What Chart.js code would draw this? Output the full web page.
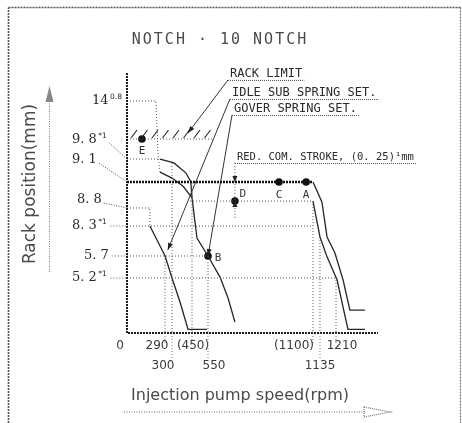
<!DOCTYPE html>
<html><head><meta charset="utf-8">
<script src="https://cdn.jsdelivr.net/npm/chart.js@4.4.1/dist/chart.umd.min.js"></script>
<style>html,body{margin:0;padding:0;background:#fff}#wrap{width:462px;height:423px}</style>
</head><body><div id="wrap"><canvas id="c" width="462" height="423"></canvas></div>
<script>
// ---------------- data (rpm, rack mm) ----------------
const chartTitle = 'NOTCH \u00b7 10 NOTCH';
const xTitle = 'Injection pump speed(rpm)';
const yTitle = 'Rack position(mm)';

const speedTicks = [0, 290, 300, 450, 550, 1100, 1135, 1210];
const speedTickLabels = ['0', '290', '300', '(450)', '550', '(1100)', '1135', '1210'];
const rackTicks = [14, 9.8, 9.1, 8.8, 8.3, 5.7, 5.2];
const rackTickLabels = ['14', '9. 8', '9. 1', '8. 8', '8. 3', '5. 7', '5. 2'];
const rackTickNotes = ['0.8', '*1', '', '', '*1', '', '*1'];

const fullLoad = [[0, 9.1], [1100, 9.1]];
const startLimit = [[0, 14], [221, 14], [237, 10.09], [252, 9.40]];
const startCurve = [[252, 9.40], [300, 9.22], [383, 9.05], [450, 8.92]];
const torqueLimit = [[0, 9.8], [252, 9.8]];
const torqueCurve = [[252, 9.8], [315, 9.68], [405, 9.37], [440, 9.12], [450, 8.92]];
const governorCurve = [[450, 8.92], [463, 8.61], [481, 7.26], [550, 5.7], [613, 5.22], [655, 3.31], [691, 1.04]];
const idleStep = [[0, 8.8], [175, 8.8], [175, 8.3]];
const idleCurve = [[175, 8.3], [229, 7.09], [290, 5.72], [300, 5.2], [360, 2.93], [420, 0.35], [544, 0.35]];
const outerDroop = [[1100, 9.1], [1144, 8.87], [1168, 7.35], [1205, 5.96], [1242, 5.01], [1273, 2.17], [1341, 2.17]];
const innerDroop = [[1100, 8.88], [1135, 7.35], [1168, 5.68], [1215, 5.01], [1264, 0.35], [1341, 0.35]];

const rackLimit = [[0, 11.25], [576, 11.25]];
const reducedLevel = [[435, 8.88], [1100, 8.88]];
const guide83 = [[0, 8.3], [1100, 8.3]];
const guide57 = [[0, 5.7], [550, 5.7]];
const guide52 = [[0, 5.2], [1215, 5.2]];
const guide290 = [[290, 5.72], [290, 0]];
const guide300 = [[300, 9.68], [300, 0]];
const guide450 = [[450, 9.09], [450, 0]];
const guide550 = [[550, 5.7], [550, 0]];
const guide1100 = [[1100, 8.88], [1100, 0]];
const guide1135 = [[1135, 7.35], [1135, 0]];
const guide1210 = [[1210, 5.01], [1210, 0]];

const rackLimitLeader = [[655, 15.13], [420, 11.68]];
const idleLeader = [[665, 14.11], [294, 6.22]];
const goverLeader = [[676, 12.99], [550, 5.7]];
const strokeLeader = [[691, 9.68], [691, 8.52]];

const rackLimitNote = 'RACK LIMIT';
const idleNote = 'IDLE SUB SPRING SET.';
const goverNote = 'GOVER SPRING SET.';
const strokeNote = 'RED. COM. STROKE, (0. 25)\u00b9mm';

const pointNames = ['A', 'B', 'C', 'D', 'E'];
const pointRpm = [1064, 550, 922, 691, 114];
const pointRack = [9.1, 5.7, 9.1, 8.88, 11.25];

// ---------------- schematic (piecewise) axes ----------------
const BREAKS = {
  x: [[0, 0], [290, .1514], [300, .1793], [450, .2590], [550, .3227], [1100, .7410], [1135, .7689], [1210, .8327], [1400, 1]],
  y: [[0, 0], [5.2, .2115], [5.7, .2962], [8.3, .4115], [8.8, .4808], [9.1, .5808], [9.8, .6692], [14, .8923], [15.5, 1]]
};
function mapBreaks(b, v) {
  let i = 0; while (i < b.length - 2 && v > b[i + 1][0]) i++;
  return b[i][1] + (v - b[i][0]) * (b[i + 1][1] - b[i][1]) / (b[i + 1][0] - b[i][0]);
}
function unmapBreaks(b, f) {
  let i = 0; while (i < b.length - 2 && f > b[i + 1][1]) i++;
  return b[i][0] + (f - b[i][1]) * (b[i + 1][0] - b[i][0]) / (b[i + 1][1] - b[i][1]);
}
class PiecewiseScale extends Chart.LinearScale {
  getPixelForValue(value) {
    if (value === null || value === undefined) return NaN;
    return this.getPixelForDecimal(mapBreaks(BREAKS[this.axis], value));
  }
  getValueForPixel(pixel) { return unmapBreaks(BREAKS[this.axis], this.getDecimalForPixel(pixel)); }
}
PiecewiseScale.id = 'piecewise';
PiecewiseScale.defaults = Chart.LinearScale.defaults;
Chart.register(PiecewiseScale);

// ---------------- styles ----------------
const INK = '#262626';
const SOLID = { borderColor: INK, borderWidth: 1.3 };
const DOT = { borderColor: '#555', borderWidth: 1, borderDash: [1, 2] };
const THICK = { borderColor: '#111', borderWidth: 2.4, borderDash: [2, 1] };
const LEAD = { borderColor: '#333', borderWidth: 1 };

function ds(pts, style) {
  return Object.assign({ data: pts.map(p => ({ x: p[0], y: p[1] })), showLine: true, pointRadius: 0, clip: false, fill: false, tension: 0 }, style);
}

const datasets = [
  ds(torqueLimit, DOT), ds(startLimit, DOT), ds(idleStep, DOT), ds(rackLimit, DOT),
  ds(reducedLevel, DOT), ds(guide83, DOT), ds(guide57, DOT), ds(guide52, DOT),
  ds(guide290, DOT), ds(guide300, DOT), ds(guide450, DOT), ds(guide550, DOT),
  ds(guide1100, DOT), ds(guide1135, DOT), ds(guide1210, DOT),
  ds(fullLoad, THICK),
  ds(startCurve, SOLID), ds(torqueCurve, SOLID), ds(governorCurve, SOLID), ds(idleCurve, SOLID),
  ds(outerDroop, SOLID), ds(innerDroop, SOLID),
  ds(rackLimitLeader, LEAD), ds(idleLeader, LEAD), ds(goverLeader, LEAD), ds(strokeLeader, DOT),
  { data: pointRpm.map((v, i) => ({ x: v, y: pointRack[i] })), showLine: false, pointRadius: 3.8,
    backgroundColor: '#111', borderWidth: 0, clip: false }
];

// label placement (style)
const yLabelX = [92, 72, 72, 77, 72, 84, 72];
const yLabelShift = [0, -19, -22, -8, 0, 0, 0];
const xLabelDx = [-7, -8, -9, 1, 6, -19, 0, 6];
const xLabelRow = [0, 0, 1, 0, 1, 0, 1, 0];
const pointLabelOff = [[0, 13], [10, 2], [0, 13], [8, -7], [0, 12]];

function arrowHead(ctx, fx, fy, tx, ty, len, w) {
  const a = Math.atan2(ty - fy, tx - fx);
  ctx.beginPath();
  ctx.moveTo(tx, ty);
  ctx.lineTo(tx - len * Math.cos(a) + w * Math.sin(a), ty - len * Math.sin(a) - w * Math.cos(a));
  ctx.lineTo(tx - len * Math.cos(a) - w * Math.sin(a), ty - len * Math.sin(a) + w * Math.cos(a));
  ctx.closePath(); ctx.fill();
}
function dotted(ctx, x1, y1, x2, y2, color, lw, dash) {
  ctx.save(); ctx.strokeStyle = color || '#555'; ctx.lineWidth = lw || 1; ctx.setLineDash(dash || [1, 2]);
  ctx.beginPath(); ctx.moveTo(x1, y1); ctx.lineTo(x2, y2); ctx.stroke(); ctx.restore();
}

const deco = {
  id: 'deco',
  beforeDraw(chart) {
    const ctx = chart.ctx; ctx.save(); ctx.fillStyle = '#fff'; ctx.fillRect(0, 0, chart.width, chart.height); ctx.restore();
  },
  afterDatasetsDraw(chart) {
    const ctx = chart.ctx, xs = chart.scales.x, ys = chart.scales.y, ca = chart.chartArea;
    const X = v => xs.getPixelForValue(v), Y = v => ys.getPixelForValue(v);
    ctx.save();
    // frame
    dotted(ctx, 8.5, 423, 8.5, 7.5, '#555', 1.6, [2, 1]);
    dotted(ctx, 8.5, 7.5, 460.5, 7.5, '#555', 1.6, [2, 1]);
    dotted(ctx, 460.5, 7.5, 460.5, 423, '#777', 1.2, [2, 1]);
    // axes
    ctx.strokeStyle = '#1a1a1a'; ctx.lineWidth = 2; ctx.setLineDash([2, 1]);
    ctx.beginPath(); ctx.moveTo(ca.left, ca.top); ctx.lineTo(ca.left, ca.bottom); ctx.lineTo(ca.right, ca.bottom); ctx.stroke();
    ctx.setLineDash([]);
    // rack-limit hatches
    ctx.strokeStyle = '#222'; ctx.lineWidth = 1.1;
    const hy = Y(rackLimit[0][1]);
    for (let hx = X(rackLimit[0][0]) + 4; hx < X(rackLimit[1][0]) - 2; hx += 10.5) {
      ctx.beginPath(); ctx.moveTo(hx, hy - 1); ctx.lineTo(hx + 6, hy - 9); ctx.stroke();
    }
    // arrowheads on leaders
    ctx.fillStyle = '#222';
    [rackLimitLeader, idleLeader, goverLeader].forEach(L => {
      arrowHead(ctx, X(L[0][0]), Y(L[0][1]), X(L[1][0]), Y(L[1][1]), 7, 2.5);
    });
    const sx = X(strokeLeader[0][0]);
    arrowHead(ctx, sx, Y(9.1) - 10, sx, Y(9.1), 6, 2.5);
    arrowHead(ctx, sx, Y(8.88) + 10, sx, Y(8.88), 6, 2.5);
    // annotation notes with underlines
    ctx.fillStyle = '#2a2a2a'; ctx.textBaseline = 'alphabetic'; ctx.textAlign = 'left';
    [[rackLimitNote, rackLimitLeader, '12px "DejaVu Sans Mono"'], [idleNote, idleLeader, '12px "DejaVu Sans Mono"'],
     [goverNote, goverLeader, '12px "DejaVu Sans Mono"'], [strokeNote, strokeLeader, '10.5px "DejaVu Sans Mono"']].forEach(n => {
      const x0 = X(n[1][0][0]), y0 = Y(n[1][0][1]);
      ctx.font = n[2];
      const w = ctx.measureText(n[0]).width;
      ctx.fillText(n[0], x0 + 2, y0 - 3);
      dotted(ctx, x0, y0 + 0.5, x0 + w + 4, y0 + 0.5, '#444', 1, [1, 1]);
    });
    // point labels
    ctx.font = '11px "DejaVu Sans Mono"'; ctx.textAlign = 'center'; ctx.textBaseline = 'middle'; ctx.fillStyle = '#333';
    pointNames.forEach((n, i) => {
      ctx.fillText(n, X(pointRpm[i]) + pointLabelOff[i][0], Y(pointRack[i]) + pointLabelOff[i][1]);
    });
    // y tick labels
    ctx.textAlign = 'left'; ctx.textBaseline = 'middle'; ctx.fillStyle = '#2a2a2a';
    rackTicks.forEach((v, i) => {
      const yv = Y(v), ty = yv + yLabelShift[i], lx = yLabelX[i];
      ctx.font = '13px "DejaVu Serif"';
      ctx.fillText(rackTickLabels[i], lx, ty);
      let right = lx + ctx.measureText(rackTickLabels[i]).width;
      if (rackTickNotes[i]) {
        ctx.font = '7.5px "DejaVu Sans"';
        ctx.fillText(rackTickNotes[i], right + 1.5, ty - 4);
        right += 2 + ctx.measureText(rackTickNotes[i]).width;
      }
      if (yLabelShift[i] !== 0) dotted(ctx, right + 2, ty + 3, ca.left, yv, '#555', 1, [1, 1.5]);
      else if (i !== 0) dotted(ctx, right + 3, yv, ca.left, yv, '#555', 1, [1, 2]);
    });
    // x tick labels + tick extensions
    ctx.font = '12px "DejaVu Sans"'; ctx.textAlign = 'center'; ctx.fillStyle = '#3a3a3a';
    speedTicks.forEach((v, i) => {
      const xv = X(v);
      if (i > 0) dotted(ctx, xv, ca.bottom, xv, ca.bottom + (xLabelRow[i] ? 27 : 10), '#777', 1, [1, 2]);
      ctx.fillText(speedTickLabels[i], xv + xLabelDx[i], ca.bottom + (xLabelRow[i] ? 33 : 13));
    });
    // title
    ctx.font = '15px "DejaVu Sans Mono"'; ctx.fillStyle = '#4a4a4a'; ctx.textAlign = 'center';
    if ('letterSpacing' in ctx) ctx.letterSpacing = '2px';
    ctx.fillText(chartTitle, 220, 40);
    if ('letterSpacing' in ctx) ctx.letterSpacing = '0px';
    // x title + arrow
    ctx.font = '16px "DejaVu Sans"'; ctx.fillStyle = '#4a4a4a';
    ctx.fillText(xTitle, 240, 396);
    dotted(ctx, 124, 412, 366, 412, '#666', 1, [1, 1.5]);
    ctx.strokeStyle = '#777'; ctx.lineWidth = 1.2; ctx.setLineDash([1, 1]);
    ctx.beginPath(); ctx.moveTo(364, 407); ctx.lineTo(390, 412); ctx.lineTo(364, 417); ctx.closePath(); ctx.stroke();
    ctx.setLineDash([]);
    // y title + arrow
    ctx.save(); ctx.translate(31, 184); ctx.rotate(-Math.PI / 2);
    ctx.font = '17px "DejaVu Sans"'; ctx.fillStyle = '#4a4a4a'; ctx.textAlign = 'center';
    ctx.fillText(yTitle, 0, 0); ctx.restore();
    dotted(ctx, 49.5, 272, 49.5, 98, '#777', 1, [1, 1.5]);
    ctx.fillStyle = '#888';
    arrowHead(ctx, 49.5, 110, 49.5, 86, 16, 4);
    ctx.restore();
  }
};

new Chart(document.getElementById('c'), {
  type: 'scatter',
  data: { datasets },
  options: {
    responsive: false, animation: false, events: [],
    layout: { padding: { left: 127, right: 84, top: 73, bottom: 90 } },
    plugins: { legend: { display: false }, tooltip: { enabled: false } },
    scales: {
      x: { type: 'piecewise', min: 0, max: 1400, display: false },
      y: { type: 'piecewise', min: 0, max: 15.5, display: false }
    }
  },
  plugins: [deco]
});
</script></body></html>
